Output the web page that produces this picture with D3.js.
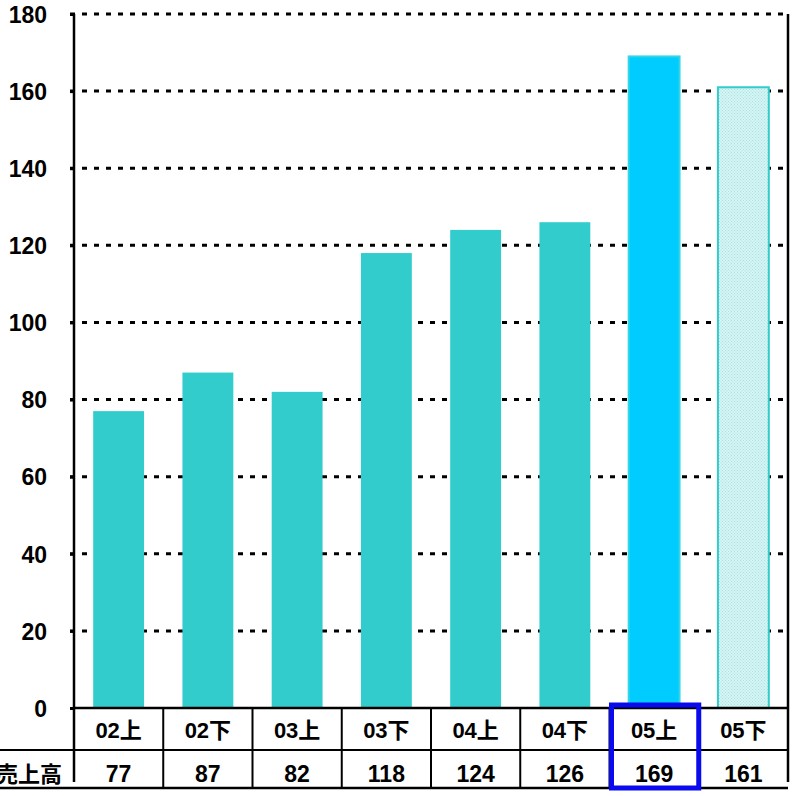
<!DOCTYPE html>
<html>
<head>
<meta charset="utf-8">
<script src="https://cdn.jsdelivr.net/npm/d3@7"></script>
<style>
  body { margin: 0; background: #fff; }
  text { font-family: "Liberation Sans", "Noto Sans CJK JP", sans-serif; font-weight: bold; }
</style>
</head>
<body>
<div id="chart"></div>
<script>
// data
var categories = ["02上", "02下", "03上", "03下", "04上", "04下", "05上", "05下"];
var sales = [77, 87, 82, 118, 124, 126, 169, 161];
var yTicks = [0, 20, 40, 60, 80, 100, 120, 140, 160, 180];
var rowLabel = "売上高";
var highlight = "05上";
var forecast = "05下";

var svgWidth = 796;
var svgHeight = 796;

var margin = { top: 14, right: 8, bottom: 88, left: 74 };
var width = svgWidth - margin.left - margin.right;
var height = svgHeight - margin.top - margin.bottom;

var svg = d3.select("#chart")
  .append("svg")
  .attr("width", svgWidth)
  .attr("height", svgHeight);

var defs = svg.append("defs");
var pat = defs.append("pattern")
  .attr("id", "dots")
  .attr("width", 3)
  .attr("height", 3)
  .attr("patternUnits", "userSpaceOnUse");
pat.append("rect").attr("width", 3).attr("height", 3).attr("fill", "#d6f4f4");
pat.append("rect").attr("x", 0).attr("y", 0).attr("width", 1).attr("height", 1).attr("fill", "#a8e2e2");
pat.append("rect").attr("x", 1.5).attr("y", 1.5).attr("width", 1).attr("height", 1).attr("fill", "#a8e2e2");

var chartGroup = svg.append("g")
  .attr("transform", `translate(${margin.left}, ${margin.top})`);

var xScale = d3.scaleBand()
  .domain(categories)
  .range([0, width])
  .paddingInner(0.43)
  .paddingOuter(0.215);

// table cells
var xCell = d3.scaleBand()
  .domain(categories)
  .range([0, width]);

var yScale = d3.scaleLinear()
  .domain([0, 180])
  .range([height, 0]);

// gridlines
chartGroup.selectAll(".grid")
  .data(yTicks.slice(1))
  .enter()
  .append("line")
  .attr("x1", -4)
  .attr("x2", width)
  .attr("y1", d => yScale(d))
  .attr("y2", d => yScale(d))
  .attr("stroke", "#000")
  .attr("stroke-width", 3)
  .attr("stroke-dasharray", "5,7");

// y axis
var leftAxis = d3.axisLeft(yScale).tickValues(yTicks).tickSize(4).tickPadding(23);
var yAxis = chartGroup.append("g").call(leftAxis);
yAxis.select(".domain").remove();
yAxis.selectAll(".tick line").attr("stroke", "#000").attr("stroke-width", 3);
yAxis.selectAll("text")
  .attr("font-size", "23px")
  .attr("fill", "#000")
  .attr("dy", "0.36em")
  .style("font-family", "'Liberation Sans', sans-serif")
  .style("font-weight", "bold");

// bars
chartGroup.selectAll(".bar")
  .data(categories)
  .enter()
  .append("rect")
  .attr("x", d => xScale(d))
  .attr("y", (d, i) => yScale(sales[i]))
  .attr("width", xScale.bandwidth())
  .attr("height", (d, i) => height - yScale(sales[i]))
  .attr("fill", d => d === highlight ? "#00ccff" : d === forecast ? "url(#dots)" : "#33cccc")
  .attr("stroke", d => d === highlight ? "#33d6e6" : d === forecast ? "#33cccc" : "none")
  .attr("stroke-width", 2);

// frame
chartGroup.append("line")
  .attr("x1", 0).attr("x2", 0).attr("y1", 0).attr("y2", height + 74)
  .attr("stroke", "#000").attr("stroke-width", 2.5);
chartGroup.append("line")
  .attr("x1", width).attr("x2", width).attr("y1", 0).attr("y2", height + 74)
  .attr("stroke", "#000").attr("stroke-width", 2.5);

// table
var table = chartGroup.append("g").attr("transform", `translate(0, ${height})`);
table.append("line")
  .attr("x1", 0).attr("x2", width).attr("y1", 0).attr("y2", 0)
  .attr("stroke", "#000").attr("stroke-width", 2.5);
table.append("line")
  .attr("x1", -margin.left).attr("x2", width).attr("y1", 42).attr("y2", 42)
  .attr("stroke", "#000").attr("stroke-width", 2);
table.append("line")
  .attr("x1", -margin.left).attr("x2", width).attr("y1", 80).attr("y2", 80)
  .attr("stroke", "#000").attr("stroke-width", 2.5);

table.selectAll(".cellline")
  .data(categories.slice(1))
  .enter()
  .append("line")
  .attr("x1", d => xCell(d))
  .attr("x2", d => xCell(d))
  .attr("y1", 0)
  .attr("y2", 80)
  .attr("stroke", "#000")
  .attr("stroke-width", 2);

table.selectAll(".cat")
  .data(categories)
  .enter()
  .append("text")
  .attr("x", d => xCell(d) + xCell.bandwidth() / 2)
  .attr("y", 30)
  .attr("text-anchor", "middle")
  .attr("font-size", "22px")
  .text(d => d);

table.selectAll(".val")
  .data(categories)
  .enter()
  .append("text")
  .attr("x", d => xCell(d) + xCell.bandwidth() / 2)
  .attr("y", 74)
  .attr("text-anchor", "middle")
  .attr("font-size", "23px")
  .text((d, i) => sales[i]);

table.append("text")
  .attr("x", -12)
  .attr("y", 74)
  .attr("text-anchor", "end")
  .attr("font-size", "22px")
  .text(rowLabel);

// highlight box
table.append("rect")
  .attr("x", xCell(highlight) + 2)
  .attr("y", -3)
  .attr("width", xCell.bandwidth() - 2)
  .attr("height", 83)
  .attr("fill", "none")
  .attr("stroke", "#0a0aee")
  .attr("stroke-width", 5);
</script>
</body>
</html>
